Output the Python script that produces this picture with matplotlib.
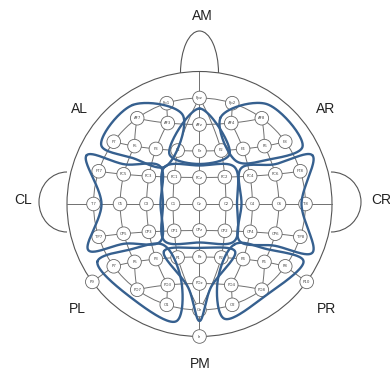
import numpy as np
import matplotlib
matplotlib.use("Agg")
import matplotlib.pyplot as plt
from matplotlib.patches import Circle, Arc

W, H = 390, 373
CX, CY = 199.5, 204      # head centre, pixels from top-left
R_OUT = 132.5            # radius of the theta = 90 deg ring (Nz / Iz level)

GRID = "#707070"
BLUE = "#36608f"

# idealised spherical positions (polar angle from Cz, azimuth; 90 = nose)
midline = {"Nz": (90, 90), "Fpz": (72, 90), "AFz": (54, 90), "Fz": (36, 90),
           "FCz": (18, 90), "Cz": (0, 0), "CPz": (18, -90), "Pz": (36, -90),
           "POz": (54, -90), "Oz": (72, -90), "Iz": (90, -90)}
ring_left = ["Fp1", "AF7", "F7", "FT7", "T7", "TP7", "P7", "PO7", "O1"]
ring_right = ["Fp2", "AF8", "F8", "FT8", "T8", "TP8", "P8", "PO8", "O2"]
outer = {"P9": (90, 216), "P10": (90, -36), "T9": (90, 180), "T10": (90, 0)}

rows = [["AF7", "AF3", "AFz", "AF4", "AF8"],
        ["F7", "F5", "F3", "F1", "Fz", "F2", "F4", "F6", "F8"],
        ["FT7", "FC5", "FC3", "FC1", "FCz", "FC2", "FC4", "FC6", "FT8"],
        ["T7", "C5", "C3", "C1", "Cz", "C2", "C4", "C6", "T8"],
        ["TP7", "CP5", "CP3", "CP1", "CPz", "CP2", "CP4", "CP6", "TP8"],
        ["P7", "P5", "P3", "P1", "Pz", "P2", "P4", "P6", "P8"],
        ["PO7", "PO3", "POz", "PO4", "PO8"]]

columns = [["Nz", "Fpz", "AFz", "Fz", "FCz", "Cz", "CPz", "Pz", "POz", "Oz", "Iz"],
           ["Fpz", "F1", "FC1", "C1", "CP1", "P1", "Oz"],
           ["Fpz", "F2", "FC2", "C2", "CP2", "P2", "Oz"],
           ["Fp1", "AF3", "F3", "FC3", "C3", "CP3", "P3", "PO3", "O1"],
           ["Fp2", "AF4", "F4", "FC4", "C4", "CP4", "P4", "PO4", "O2"],
           ["AF7", "F5", "FC5", "C5", "CP5", "P5", "PO7"],
           ["AF8", "F6", "FC6", "C6", "CP6", "P6", "PO8"],
           ["T9", "T7"], ["T10", "T8"], ["P9", "P7"], ["P10", "P8"]]

hidden = {"Nz", "T9", "T10"}

# regions: electrodes along each outline (in order) and padding in px
regions = {
    "AM": [("AFz", 16), ("F1", 9), ("Fz", 13), ("F2", 9)],
    "AL": [("AF7", 14), ("F7", 13), ("F5", 12), ("F3", 20), ("AF3", 17)],
    "AR": [("AF4", 12), ("F4", 14), ("F6", 14), ("F8", 18), ("AF8", 15)],
    "CL": [("FT7", 20), ("T7", -8), ("TP7", 17), ("CP5", 10), ("CP3", 15),
           ("C3", 14), ("FC3", 15), ("FC5", 10)],
    "CM": [("FC1", 14), ("C1", 10), ("CP1", 14), ("CPz", 12), ("CP2", 14),
           ("C2", 11), ("FC2", 14), ("FCz", 12)],
    "CR": [("FT8", 20), ("FC6", 10), ("FC4", 12), ("C4", 11), ("CP4", 14),
           ("CP6", 12), ("TP8", 20), ("T8", -4)],
    "PL": [("P7", 17), ("PO7", 10), ("O1", 19), ("PO3", 14), ("P3", 16), ("P5", 13)],
    "PM": [("P1", 15), ("POz", 12), ("Oz", 11), ("POz", 12), ("P2", 15), ("Pz", 9)],
    "PR": [("P4", 17), ("PO4", 14), ("O2", 16), ("PO8", 7), ("P8", 19), ("P6", 13)],
}

region_labels = {"AM": (3, 188), "AL": (-120, 95), "AR": (126, 95),
                 "CL": (-176, 4), "CR": (182, 4), "PL": (-122, -105),
                 "PR": (127, -105), "PM": (1, -160)}


def sph(theta, phi):
    t, p = np.radians(theta), np.radians(phi)
    return np.array([np.sin(t) * np.cos(p), np.sin(t) * np.sin(p), np.cos(t)])


def proj(v):
    # azimuthal equidistant projection centred on Cz
    v = np.atleast_2d(v)
    v = v / np.linalg.norm(v, axis=1, keepdims=True)
    th = np.degrees(np.arccos(np.clip(v[:, 2], -1, 1)))
    ph = np.arctan2(v[:, 1], v[:, 0])
    r = th / 90 * R_OUT
    return np.column_stack([r * np.cos(ph), r * np.sin(ph)])


pos3 = {k: sph(*v) for k, v in midline.items()}
pos3.update({k: sph(*v) for k, v in outer.items()})
for i, name in enumerate(ring_left):
    pos3[name] = sph(72, 108 + 18 * i)
for i, name in enumerate(ring_right):
    pos3[name] = sph(72, 72 - 18 * i)

# rows: equal steps along the circle through both ends and the midline point
row_curves = []
for names in rows:
    a, m, b = pos3[names[0]], pos3[names[len(names) // 2]], pos3[names[-1]]
    n = np.cross(m - a, b - a)
    n /= np.linalg.norm(n)
    c = np.dot(n, a) * n
    rc = np.linalg.norm(a - c)
    u1 = (a - c) / rc
    u2 = np.cross(n, u1)
    tb = np.arctan2(np.dot(b - c, u2), np.dot(b - c, u1))
    if tb < 0:
        tb += 2 * np.pi
    for i, name in enumerate(names):
        t = tb * i / (len(names) - 1)
        if name not in pos3:
            pos3[name] = c + rc * (np.cos(t) * u1 + np.sin(t) * u2)
    ts = np.linspace(0, tb, 200)[:, None]
    row_curves.append(proj(c + rc * (np.cos(ts) * u1 + np.sin(ts) * u2)))

pos = {k: proj(v)[0] for k, v in pos3.items()}


def slerp_path(names, n=40):
    pts = []
    for a, b in zip(names[:-1], names[1:]):
        pa, pb = pos3[a], pos3[b]
        om = np.arccos(np.clip(np.dot(pa, pb), -1, 1))
        t = np.linspace(0, 1, n)[:, None]
        seg = (np.sin((1 - t) * om) * pa + np.sin(t * om) * pb) / np.sin(om)
        pts.append(proj(seg))
    return np.vstack(pts)


def catmull_closed(pts, n=40):
    # centripetal Catmull-Rom through the points, closed
    P = np.vstack([pts[-1], pts, pts[0], pts[1]])
    out = []
    for i in range(1, len(pts) + 1):
        p0, p1, p2, p3 = P[i - 1], P[i], P[i + 1], P[i + 2]
        t0 = 0.0
        t1 = t0 + np.linalg.norm(p1 - p0) ** 0.5
        t2 = t1 + np.linalg.norm(p2 - p1) ** 0.5
        t3 = t2 + np.linalg.norm(p3 - p2) ** 0.5
        t = np.linspace(t1, t2, n, endpoint=False)[:, None]
        a1 = (t1 - t) / (t1 - t0) * p0 + (t - t0) / (t1 - t0) * p1
        a2 = (t2 - t) / (t2 - t1) * p1 + (t - t1) / (t2 - t1) * p2
        a3 = (t3 - t) / (t3 - t2) * p2 + (t - t2) / (t3 - t2) * p3
        b1 = (t2 - t) / (t2 - t0) * a1 + (t - t0) / (t2 - t0) * a2
        b2 = (t3 - t) / (t3 - t1) * a2 + (t - t1) / (t3 - t1) * a3
        out.append((t2 - t) / (t2 - t1) * b1 + (t - t1) / (t2 - t1) * b2)
    out = np.vstack(out)
    return np.vstack([out, out[:1]])


def outline(items):
    names = [k for k, _ in items]
    pads = np.array([p for _, p in items], float)
    V = np.array([pos[k] for k in names])
    x, y = V[:, 0], V[:, 1]
    if np.sum(x * np.roll(y, -1) - np.roll(x, -1) * y) < 0:
        V, pads = V[::-1], pads[::-1]
    cen = V.mean(axis=0)
    pts = []
    for i in range(len(V)):
        a, v, b = V[i - 1], V[i], V[(i + 1) % len(V)]
        e1, e2 = v - a, b - v
        n1 = np.array([e1[1], -e1[0]]) / np.linalg.norm(e1)
        n2 = np.array([e2[1], -e2[0]]) / np.linalg.norm(e2)
        d = n1 + n2
        if np.linalg.norm(d) < 1e-6:
            d = v - cen
        d /= np.linalg.norm(d)
        pts.append(v + pads[i] * d)
    return catmull_closed(np.array(pts))


fig = plt.figure(figsize=(W / 100, H / 100), dpi=100)
ax = fig.add_axes([0, 0, 1, 1])
ax.set_xlim(-CX, W - CX)
ax.set_ylim(CY - H, CY)
ax.set_aspect("equal")
ax.axis("off")

# head, nose and ears
r72 = 72 / 90 * R_OUT
ax.add_patch(Circle((0, 0), R_OUT, fill=False, ec="#555555", lw=0.8, zorder=1))
ax.add_patch(Circle((0, 0), r72, fill=False, ec=GRID, lw=0.7, zorder=1))
nose_w = 19
base = np.sqrt(R_OUT ** 2 - nose_w ** 2)
ax.add_patch(Arc((0, base), 2 * nose_w, 2 * (173 - base), theta1=0, theta2=180,
                 ec="#555555", lw=0.8, zorder=1))
ax.add_patch(Arc((-R_OUT, 2), 56, 60, theta1=90, theta2=270, ec="#555555", lw=0.8, zorder=1))
ax.add_patch(Arc((R_OUT - 1, 2), 60, 60, theta1=-90, theta2=90, ec="#555555", lw=0.8, zorder=1))

for xy in row_curves:
    ax.plot(xy[:, 0], xy[:, 1], color=GRID, lw=0.7, zorder=2)
for names in columns:
    xy = slerp_path(names)
    ax.plot(xy[:, 0], xy[:, 1], color=GRID, lw=0.7, zorder=2)

for name, xy in pos.items():
    if name in hidden:
        continue
    ax.add_patch(Circle(xy, 6.8, fc="white", ec="#666666", lw=0.6, zorder=3))
    ax.text(xy[0], xy[1], name, fontsize=2.8, color="#444444",
            ha="center", va="center", zorder=4)

for key, items in regions.items():
    xy = outline(items)
    ax.plot(xy[:, 0], xy[:, 1], color=BLUE, lw=1.7, zorder=5,
            solid_capstyle="round")

for key, (x, y) in region_labels.items():
    ha = "left" if key == "CR" else "center"
    ax.text(x if key != "CR" else 172, y, key, fontsize=10, color="#222222",
            family=["Liberation Sans", "DejaVu Sans"], ha=ha, va="center")

fig.savefig("out.png", dpi=100)
